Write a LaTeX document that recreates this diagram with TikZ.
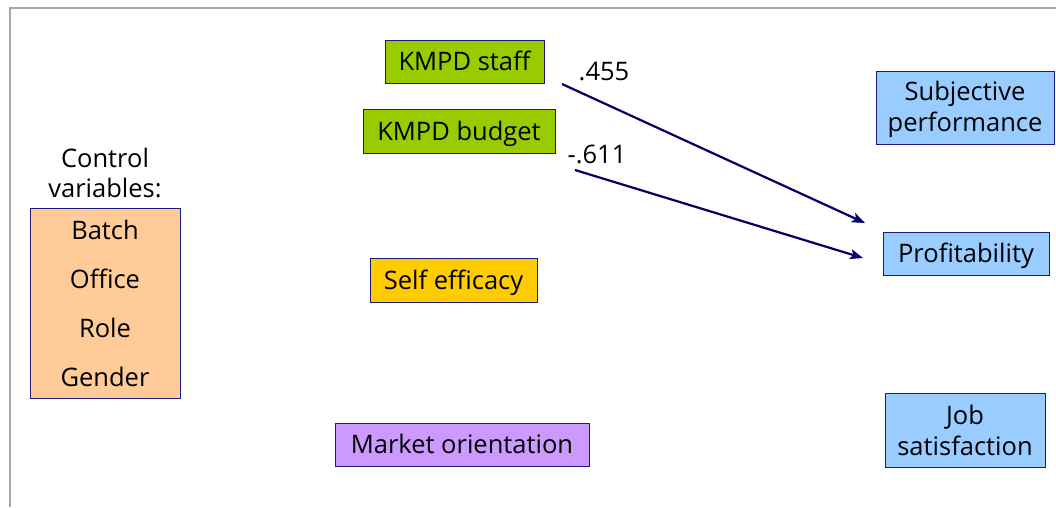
\documentclass[tikz,border=0pt]{standalone}
\usepackage{fontspec}
\setmainfont{Open Sans}
\usetikzlibrary{arrows.meta}
\definecolor{navy}{HTML}{1A1A80}
\definecolor{arrowblue}{HTML}{000066}
\definecolor{kmpd}{HTML}{99CC00}
\definecolor{efficacy}{HTML}{FFCC00}
\definecolor{market}{HTML}{CC99FF}
\definecolor{outcome}{HTML}{99CCFF}
\definecolor{control}{HTML}{FFCC99}
\definecolor{frame}{HTML}{A8A8A8}
\tikzset{
  varbox/.style={draw=navy, line width=0.9pt, inner sep=0pt, align=center,
    font=\fontsize{25.5}{31}\selectfont, text=black},
  oneline/.style={text height=18.2pt, text depth=0pt},
  path/.style={draw=arrowblue, line width=2.2pt,
    -{Stealth[length=13pt,width=10pt,inset=3pt]}},
  coef/.style={font=\fontsize{25.5}{28}\selectfont, text=black},
  plain/.style={font=\fontsize{25.5}{29.5}\selectfont, text=black, align=center}
}
\begin{document}
\begin{tikzpicture}[x=1pt, y=-1pt]
\useasboundingbox (0,0) rectangle (1056,507);
\fill[white] (0,0) rectangle (1056,507);
% frame edges
\draw[frame, line width=1.3pt] (10,507) -- (10,8) -- (1056,8);

% predictors
\node[varbox, oneline, fill=kmpd, minimum width=159pt, minimum height=43pt] (staff) at (464.5,61.5) {KMPD staff};
\node[varbox, oneline, fill=kmpd, minimum width=192pt, minimum height=44pt] (budget) at (459,131) {KMPD budget};
\node[varbox, oneline, fill=efficacy, minimum width=167pt, minimum height=44pt] (efficacy) at (453.5,280) {Self efficacy};
\node[varbox, oneline, fill=market, minimum width=254pt, minimum height=43pt] (market) at (462,444.5) {Market orientation};

% outcomes
\node[varbox, fill=outcome, minimum width=178pt, minimum height=73pt] (subjective) at (965,107.5) {};
\node[plain] (subjtext) at (965,109) {Subjective\\[1.5pt]performance};
\node[varbox, oneline, fill=outcome, minimum width=166pt, minimum height=43pt] (profit) at (966,253.5) {Profitability};
\node[varbox, fill=outcome, minimum width=160pt, minimum height=74pt] (job) at (965,430) {Job\\satisfaction};

% control variables
\node[plain] (ctitle) at (105,173) {Control\\variables:};
\node[varbox, fill=control, minimum width=150pt, minimum height=190pt] (controls) at (105,303) {};
\node[plain] (batch) at (105,229.5) {Batch};
\node[plain] (office) at (105,278.5) {Office};
\node[plain] (role) at (105,328) {Role};
\node[plain] (gender) at (105,377) {Gender};

% significant paths
\coordinate (s1) at (562,84);
\coordinate (e1) at (865,223);
\coordinate (s2) at (575,170);
\coordinate (e2) at (863,258);
\draw[path] (s1) -- (e1);
\draw[path] (s2) -- (e2);
\node[coef] (c1) at (604,72) {.455};
\node[coef] (c2) at (597,154) {-.611};
\end{tikzpicture}
\end{document}
